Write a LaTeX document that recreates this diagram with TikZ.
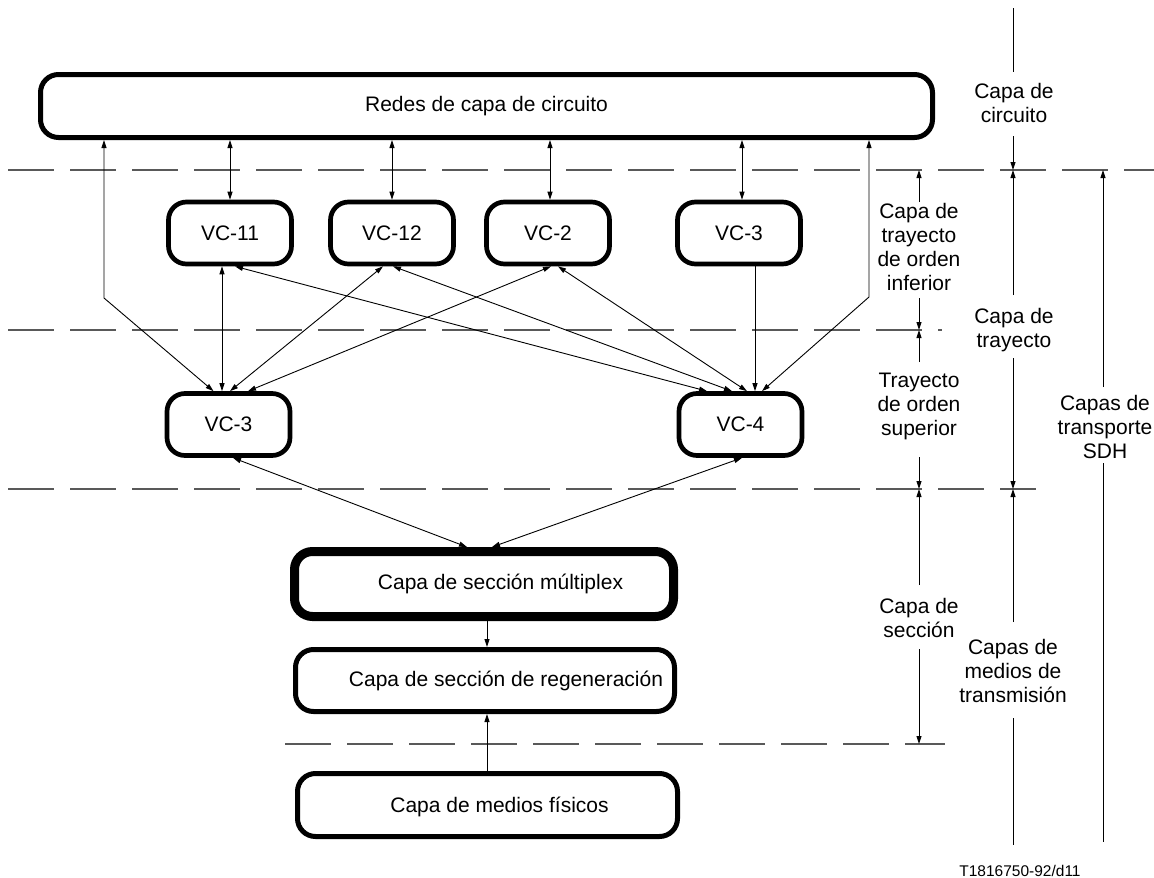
\documentclass[tikz,border=0pt]{standalone}
\usepackage{fontspec}
\setmainfont{Liberation Sans}
\usetikzlibrary{arrows.meta,calc}
\begin{document}
\begin{tikzpicture}[x=1pt,y=-1pt,
  >={Triangle[length=8pt,width=5pt]},
  txt/.style={font=\fontsize{21}{24}\selectfont},
  box/.style={draw, rounded corners=18pt, inner sep=0pt, txt},
  vcbox/.style={box, line width=4.7pt, minimum width=123pt, minimum height=62pt},
  layerbox/.style={box, line width=5pt},
  conn/.style={line width=0.9pt},
  sep/.style={draw=black!65, line width=1.2pt, dash pattern=on 46pt off 16pt},
  lbl/.style={txt, align=center, anchor=north, inner sep=0pt},
  dim/.style={line width=0.9pt}
]
\useasboundingbox (0,0) rectangle (1154,878);

% layer separators
\draw[sep] (8,170) -- (1154,170);
\draw[sep] (8,330) -- (942,330);
\draw[sep] (8,489) -- (1036,489);
\draw[sep] (285,744) -- (945,744);

% circuit layer
\node[layerbox, minimum width=892pt, minimum height=63pt] (red) at (486.5,106) {Redes de capa de circuito};

% lower-order path layer
\node[vcbox] (vc11) at (230,233) {VC-11};
\node[vcbox] (vc12) at (392,233) {VC-12};
\node[vcbox] (vc2)  at (548,233) {VC-2};
\node[vcbox] (vc3a) at (739,233) {VC-3};

% higher-order path layer
\node[vcbox] (vc3b) at (228.5,424.5) {VC-3};
\node[vcbox] (vc4)  at (740.5,424.5) {VC-4};

% section and physical media layers
\node[box, line width=9pt, minimum width=379pt, minimum height=65pt] (mux) at (484,584) {};
\node[txt, inner sep=0pt] (muxt) at (500.5,584) {Capa de sección múltiplex};
\node[layerbox, minimum width=379pt, minimum height=62pt] (reg) at (485,680.5) {};
\node[txt, inner sep=0pt] (regt) at (506,681) {Capa de sección de regeneración};
\node[layerbox, minimum width=380pt, minimum height=63pt] (fis) at (487.5,805) {};
\node[txt, inner sep=0pt] (fist) at (499.5,807) {Capa de medios físicos};

% bend points of the outer connectors
\coordinate (kL) at (104,298);
\coordinate (kR) at (869,297);

% attachment points on the boxes
\coordinate (p2)  at ($(vc2.north)+(2,0)$);
\coordinate (p3)  at ($(vc3a.north)+(3,0)$);
\coordinate (p11) at ($(vc3b.north)+(-6.5,0)$);
\coordinate (p34) at ($(vc4.north)+(14.5,0)$);
\coordinate (pm)  at ($(mux.south)+(3,0)$);
\coordinate (pf)  at ($(fis.north)+(-0.5,0)$);

% circuit layer <-> lower-order VCs
\draw[conn,<->] (vc11.north) -- (vc11.north |- red.south);
\draw[conn,<->] (vc12.north) -- (vc12.north |- red.south);
\draw[conn,<->] (p2) -- (p2 |- red.south);
\draw[conn,<->] (p3) -- (p3 |- red.south);

% circuit layer <-> higher-order VCs
\draw[conn,<->] (red.south -| kL) -- (kL) -- ($(vc3b.north)+(-15,0)$);
\draw[conn,<->] (red.south -| kR) -- (kR) -- ($(vc4.north)+(21.5,0)$);

% lower-order VCs into VC-3
\draw[conn,<->] (p11) -- (p11 |- vc11.south);
\draw[conn,<->] ($(vc12.south)+(-9,0)$) -- ($(vc3b.north)+(1.5,0)$);
\draw[conn,<->] ($(vc2.south)+(3,0)$) -- ($(vc3b.north)+(19.5,0)$);

% lower-order VCs into VC-4
\draw[conn,<->] ($(vc11.south)+(5,0)$) -- ($(vc4.north)+(-33.5,0)$);
\draw[conn,<->] ($(vc12.south)+(1,0)$) -- ($(vc4.north)+(-8.5,0)$);
\draw[conn,<->] ($(vc2.south)+(10,0)$) -- ($(vc4.north)+(6.5,0)$);
\draw[conn,->] (p34 |- vc3a.south) -- (p34);

% higher-order VCs <-> multiplex section
\draw[conn,<->] ($(vc3b.south)+(4.5,0)$) -- ($(mux.north)+(-17,0)$);
\draw[conn,<->] ($(vc4.south)+(1.5,0)$) -- ($(mux.north)+(8,0)$);

% section chain
\draw[conn,->] (pm) -- (pm |- reg.north);
\draw[conn,->] (pf) -- (pf |- reg.south);

% layer labels
\node[lbl] (la1) at (919,203) {Capa de\\trayecto\\de orden\\inferior};
\node[lbl] (la2) at (919,373) {Trayecto\\de orden\\superior};
\node[lbl] (la3) at (919,598) {Capa de\\sección};
\node[lbl] (lb1) at (1014,83) {Capa de\\circuito};
\node[lbl] (lb2) at (1014,308) {Capa de\\trayecto};
\node[lbl] (lb3) at (1013,639) {Capas de\\medios de\\transmisión};
\node[lbl] (lc)  at (1105,395) {Capas de\\transporte\\SDH};

% dimension lines, first column
\draw[dim,->] (919,202) -- (919,170);
\draw[dim,->] (919,298) -- (919,330);
\draw[dim,->] (919,362) -- (919,330);
\draw[dim,->] (919,457) -- (919,489);
\draw[dim,->] (919,585) -- (919,489);
\draw[dim,->] (919,649) -- (919,744);

% dimension lines, second column
\draw[dim] (1013,8) -- (1013,72);
\draw[dim,->] (1013,136) -- (1013,170);
\draw[dim,->] (1013,295) -- (1013,170);
\draw[dim,->] (1013,358) -- (1013,489);
\draw[dim,->] (1013,622) -- (1013,489);
\draw[dim] (1013,718) -- (1013,845);

% dimension lines, third column
\draw[dim,->] (1103,387) -- (1103,170);
\draw[dim] (1103,463) -- (1103,842);

% drawing reference
\node[font=\fontsize{15.5}{18}\selectfont, anchor=base, inner sep=0pt] (ref) at (1020,876) {T1816750-92/d11};
\end{tikzpicture}
\end{document}
